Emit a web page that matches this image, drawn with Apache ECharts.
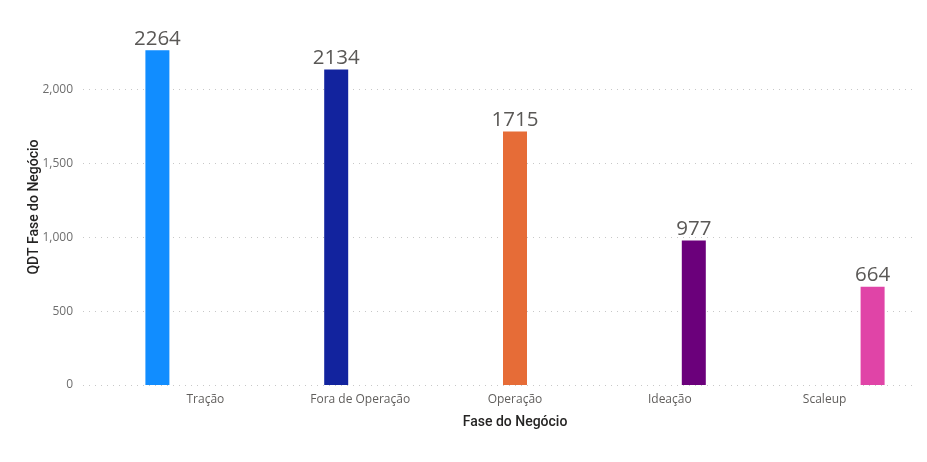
<!DOCTYPE html>
<html>
<head>
<meta charset="utf-8">
<script src="https://cdn.jsdelivr.net/npm/echarts@6/dist/echarts.min.js"></script>
<style>
  html, body { margin: 0; padding: 0; background: #fff; }
  #chart { width: 927px; height: 462px; }
</style>
</head>
<body>
<div id="chart"></div>
<script>
// dados
const categories = ['Tração', 'Fora de Operação', 'Operação', 'Ideação', 'Scaleup']
const values = [2264, 2134, 1715, 977, 664]
const colors = ['#118DFF', '#12239E', '#E66C37', '#6B007B', '#E044A7']
const yTicks = [0, 500, 1000, 1500, 2000]

const chart = echarts.init(document.getElementById('chart'))

// uma série por categoria (como legenda = categoria no Power BI)
const series = categories.map((name, i) => ({
  name: name,
  type: 'bar',
  xAxisIndex: 1,
  yAxisIndex: 1,
  barWidth: 24,
  barGap: '0%',
  itemStyle: { color: colors[i] },
  label: {
    show: true,
    position: 'top',
    distance: 1,
    color: '#5A5856',
    fontSize: 20.5,
    fontFamily: 'Open Sans'
  },
  data: categories.map((c, j) => (j === i ? values[i] : null))
}))

const yMax = 2300
const option = {
  backgroundColor: '#fff',
  animation: false,
  grid: [
    { left: 83, right: 14, top: 45, bottom: 77 },
    { left: 128, right: 25, top: 45, bottom: 77 }
  ],
  xAxis: [
    { gridIndex: 0, type: 'category', data: categories, show: false },
    {
      gridIndex: 1,
      type: 'category',
      data: categories,
      axisLine: { show: false },
      axisTick: { show: false },
      axisLabel: { color: '#605E5C', fontSize: 12, fontFamily: 'Open Sans', margin: 9 },
      name: 'Fase do Negócio',
      nameLocation: 'middle',
      nameGap: 30,
      nameTextStyle: { color: '#252423', fontSize: 14, fontFamily: 'Roboto', fontWeight: 500 }
    }
  ],
  yAxis: [
    {
      gridIndex: 0,
      type: 'value',
      min: yTicks[0],
      max: yMax,
      interval: yTicks[1] - yTicks[0],
      axisLine: { show: false },
      axisTick: { show: false },
      axisLabel: {
        color: '#6E6E6E',
        fontSize: 12,
        fontFamily: 'Open Sans',
        margin: 10,
        showMaxLabel: false,
        formatter: v => v.toLocaleString('en-US')
      },
      splitLine: { showMaxLine: false, lineStyle: { color: '#C8C8C8', type: [1, 5], width: 1 } }
    },
    { gridIndex: 1, type: 'value', min: 0, max: yMax, show: false, splitLine: { show: false } }
  ],
  graphic: [
    {
      type: 'text',
      x: 34,
      y: 207,
      rotation: Math.PI / 2,
      style: {
        text: 'QDT Fase do Negócio',
        fill: '#252423',
        font: '500 14px Roboto',
        align: 'center',
        verticalAlign: 'middle'
      }
    }
  ],
  series: series
}

chart.setOption(option)
</script>
</body>
</html>
